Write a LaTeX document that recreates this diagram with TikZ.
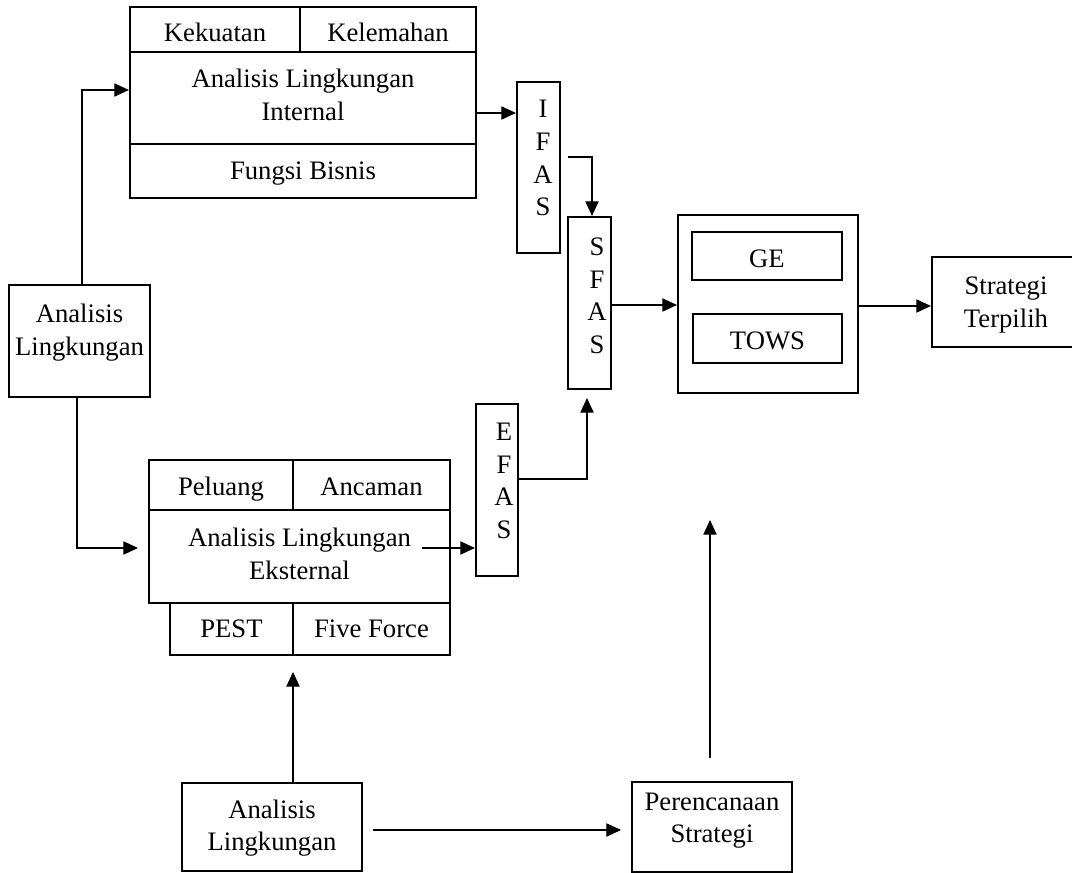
\documentclass[tikz,border=0pt]{standalone}
\usepackage{fontspec}
\setmainfont{Liberation Serif}
\usetikzlibrary{arrows.meta,fit}
\newcommand\txtfont{\fontsize{20pt}{24.5pt}\selectfont}
\begin{document}
\begin{tikzpicture}[x=0.75pt,y=-0.75pt,
  box/.style={draw, line width=1.6pt, inner sep=0pt},
  txt/.style={inner sep=0pt, text width=240pt, align=flush center, anchor=base, font=\txtfont},
  arr/.style={-{Triangle[length=11pt,width=10pt]}, line width=0.8pt}]
\useasboundingbox (0,0) rectangle (1072,873);

% internal group
\node[box, fit={(130,7) (300,52)}] (kek) {};
\node[box, fit={(300,7) (476,52)}] (kel) {};
\node[box, fit={(130,52) (476,144)}] (intmain) {};
\node[box, fit={(130,144) (476,198)}] (fungsi) {};
\node[txt] (kekT) at (215,42) {Kekuatan};
\node[txt] (kelT) at (388,42) {Kelemahan};
\node[txt] (intT) at (303,88) {Analisis Lingkungan\\Internal};
\node[txt] (fungsiT) at (303,180) {Fungsi Bisnis};

% left box
\node[box, fit={(9,285) (150,397)}] (lft) {};
\node[txt] (lftT) at (79.5,323) {Analisis\\Lingkungan};

% external group
\node[box, fit={(149,460) (293,510)}] (pel) {};
\node[box, fit={(293,460) (450,510)}] (anc) {};
\node[box, fit={(149,510) (450,603)}] (extmain) {};
\node[box, fit={(170,603) (293,655)}] (pest) {};
\node[box, fit={(293,603) (450,655)}] (five) {};
\node[txt] (pelT) at (221,496) {Peluang};
\node[txt] (ancT) at (371.5,496) {Ancaman};
\node[txt] (extT) at (299.5,547) {Analisis Lingkungan\\Eksternal};
\node[txt] (pestT) at (231.5,638) {PEST};
\node[txt] (fiveT) at (371.5,638) {Five Force};

% IFAS / SFAS / EFAS
\node[box, fit={(517,82) (560,253)}] (ifas) {};
\node[txt] (ifasT) at (543,118) {I\\F\\A\\S};
\node[box, fit={(568,217) (611,389)}] (sfas) {};
\node[txt] (sfasT) at (597,255.5) {S\\F\\A\\S};
\node[box, fit={(476,404) (518,576)}] (efas) {};
\node[txt] (efasT) at (504,440.5) {E\\F\\A\\S};

% GE / TOWS
\node[box, fit={(678,215) (858,393)}] (mid) {};
\node[box, fit={(692,232) (842,280)}] (ge) {};
\node[box, fit={(693,314) (842,363)}] (tows) {};
\node[txt] (geT) at (767,268) {GE};
\node[txt] (towsT) at (767.5,350) {TOWS};

% Strategi Terpilih
\node[box, fit={(932,257) (1080,347)}] (strat) {};
\node[txt] (stratT) at (1006,295) {Strategi\\Terpilih};

% bottom boxes
\node[box, fit={(182,783) (362,871)}] (botL) {};
\node[txt] (botLT) at (272,818) {Analisis\\Lingkungan};
\node[box, fit={(632,782) (792,872)}] (peren) {};
\node[txt] (perenT) at (712,810) {Perencanaan\\Strategi};

% helper coordinates
\coordinate (c1) at (82,90);
\coordinate (c2) at (77,548);
\coordinate (c2e) at (138,548);
\coordinate (c3) at (0,113);
\coordinate (c4) at (568,157);
\coordinate (c4b) at (592,0);
\coordinate (c5) at (0,305);
\coordinate (c6) at (0,306);
\coordinate (c7) at (422,548);
\coordinate (c8) at (587,479);
\coordinate (c8e) at (587,398);
\coordinate (c9) at (293,672);
\coordinate (c10a) at (373,830);
\coordinate (c10b) at (621,830);
\coordinate (c11a) at (710,758);
\coordinate (c11b) at (710,520);

% connectors
\draw[arr] (lft.north -| c1) |- (intmain.west |- c1);
\draw[arr] (lft.south -| c2) |- (c2e);
\draw[arr] (intmain.east |- c3) -- (ifas.west |- c3);
\draw[arr] (c4) -| (sfas.north -| c4b);
\draw[arr] (sfas.east |- c5) -- (mid.west |- c5);
\draw[arr] (mid.east |- c6) -- (strat.west |- c6);
\draw[arr] (c7) -- (efas.west |- c7);
\draw[arr] (efas.east |- c8) -| (c8e);
\draw[arr] (botL.north -| c9) -- (c9);
\draw[arr] (c10a) -- (c10b);
\draw[arr] (c11a) -- (c11b);
\end{tikzpicture}
\end{document}
